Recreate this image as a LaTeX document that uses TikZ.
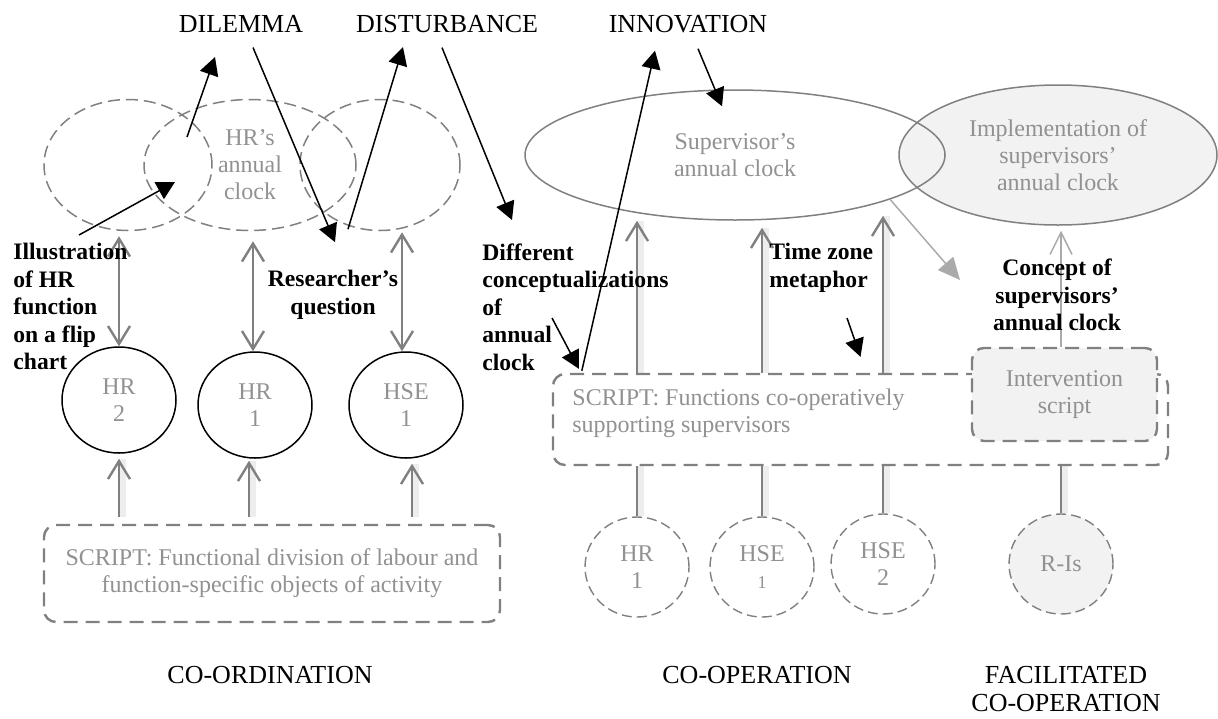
\documentclass[tikz,border=0pt]{standalone}
\usepackage{fontspec}
\setmainfont{Liberation Serif}
\usetikzlibrary{arrows.meta,shapes.geometric,calc}
\definecolor{linegrey}{RGB}{128,128,128}
\definecolor{textgrey}{RGB}{145,145,145}
\definecolor{fillgrey}{RGB}{242,242,242}
\definecolor{pale}{RGB}{170,170,170}

\begin{document}
\begin{tikzpicture}[x=0.5pt,y=-0.5pt,
  caps/.style={font=\fontsize{13}{14.25}\selectfont, inner sep=0pt, align=center},
  lbl/.style={font=\fontsize{11.8}{13.75}\selectfont\bfseries, inner sep=0pt},
  gtext/.style={text=textgrey, font=\fontsize{12}{13.5}\selectfont, align=center},
  dashell/.style={ellipse, draw=linegrey, line width=0.75pt, dash pattern=on 6pt off 3pt, inner sep=0pt},
  actor/.style={ellipse, draw=black, line width=0.75pt, minimum width=57pt, minimum height=53pt, gtext, inner sep=0pt},
  member/.style={ellipse, draw=linegrey, line width=0.7pt, dash pattern=on 5pt off 2.5pt, minimum width=52pt, minimum height=50pt, gtext, inner sep=0pt},
  scriptbox/.style={draw=linegrey, line width=1.2pt, dash pattern=on 7pt off 4pt, rounded corners=6pt},
  softshadow/.style={preaction={draw=black, draw opacity=0.07, line width=3.5pt, arrows=-, transform canvas={xshift=1.5pt}}},
  dbl/.style={draw=linegrey, line width=1.2pt, {Straight Barb[length=9pt,width=11pt]}-{Straight Barb[length=9pt,width=11pt]}},
  uparr/.style={softshadow, draw=linegrey, line width=1.2pt, -{Straight Barb[length=9pt,width=11pt]}},
  link/.style={softshadow, draw=linegrey, line width=1.2pt},
  thinarr/.style={draw=pale, line width=0.75pt, -{Straight Barb[length=11pt,width=11pt]}},
  blk/.style={draw=black, line width=0.75pt, -{Triangle[length=9pt,width=9.5pt]}},
]
\useasboundingbox (0,0) rectangle (1218,718);

% ---- headings ----
\node[caps] (dilemma) at (241,24) {DILEMMA};
\node[caps] (disturb) at (447,24) {DISTURBANCE};
\node[caps] (innov) at (688,24) {INNOVATION};
\node[caps] (coord) at (270,675) {CO-ORDINATION};
\node[caps] (coop) at (757,675) {CO-OPERATION};
\node[caps] (facil) at (1066,689) {FACILITATED\\CO-OPERATION};

% ---- co-ordination: annual clocks of the functions ----
\node[dashell, minimum width=84pt, minimum height=65.5pt] (e1) at (128,165) {};
\node[dashell, minimum width=106pt, minimum height=65.5pt, gtext] (hrclock) at (250,165) {HR’s\\annual\\clock};
\node[dashell, minimum width=80pt, minimum height=65.5pt] (e3) at (380,165) {};

\node[actor] (hr2) at (119,400) {HR\\2};
\node[actor] (hr1) at (255,405) {HR\\1};
\node[actor] (hse1) at (406,405) {HSE\\1};

\node[scriptbox, minimum width=228pt, minimum height=48.5pt, gtext] (fscript) at (272,573.5)
  {SCRIPT: Functional division of labour and\\function-specific objects of activity};

\draw[dbl, shorten <=2.5pt] (hr2.north |- e1.south) -- (hr2.north);
\draw[dbl, shorten <=5pt] ([xshift=-1pt]hr1.north |- hrclock.south) -- ([xshift=-1pt]hr1.north);
\draw[dbl, shorten <=0.5pt] ([xshift=-2pt]hse1.north |- e3.south) -- ([xshift=-2pt]hse1.north);

\draw[uparr, shorten <=3.5pt, shorten >=2.5pt] (hr2.south |- fscript.north) -- (hr2.south);
\draw[uparr, shorten <=3.5pt, shorten >=1pt] ([xshift=-3pt]hr1.south |- fscript.north) -- ([xshift=-3pt]hr1.south);
\draw[uparr, shorten <=3.5pt, shorten >=2.5pt] ([xshift=3pt]hse1.south |- fscript.north) -- ([xshift=3pt]hse1.south);

% ---- co-operation ----
\node[ellipse, draw=linegrey, fill=fillgrey, line width=0.75pt, minimum width=159pt, minimum height=70pt, gtext] (impl) at (1058,155)
  {Implementation of\\supervisors’\\annual clock};
\node[ellipse, draw=linegrey, line width=0.75pt, minimum width=210pt, minimum height=65pt, gtext] (sup) at (735,155)
  {Supervisor’s\\annual clock};

\node[scriptbox, minimum width=307.5pt, minimum height=45.5pt] (cscript) at (860.5,419.5) {};
\node[gtext, align=left, anchor=west, inner sep=0pt] (cscripttext) at (572,413)
  {SCRIPT: Functions co-operatively\\supporting supervisors};
\node[scriptbox, fill=fillgrey, minimum width=92.5pt, minimum height=46.5pt, gtext] (iscript) at (1064.5,394.5)
  {Intervention\\script};

\node[member] (m1) at (637,567) {HR\\1};
\node[member] (m2) at (762,567) {HSE\\{\fontsize{9}{10}\selectfont 1}};
\node[member] (m3) at (883,564) {HSE\\2};
\node[member, fill=fillgrey] (ri) at (1061,564) {R-Is};

\draw[uparr] (m1.north |- cscript.north) -- (m1.north |- sup.south);
\draw[uparr, shorten >=3.5pt] (m2.north |- cscript.north) -- (m2.north |- sup.south);
\draw[uparr, shorten >=-2.5pt] (m3.north |- cscript.north) -- (m3.north |- sup.south);

\draw[link] (m1.north |- cscript.south) -- (m1.north);
\draw[link] (m2.north |- cscript.south) -- (m2.north);
\draw[link] (m3.north |- cscript.south) -- (m3.north);
\draw[link, line width=0.9pt] (ri.north |- cscript.south) -- (ri.north);

\draw[thinarr, shorten >=2.5pt] (ri.north |- iscript.north) -- (ri.north |- impl.south);

\coordinate (conceptpt) at (960,280);
\draw[draw=pale, line width=0.75pt, -{Triangle[length=11pt,width=10pt]}, pale] (sup.-16) -- (conceptpt);

% ---- bold annotations ----
\node[lbl, align=left, anchor=north west] (illus) at (13,243) {Illustration\\of HR\\function\\on a flip\\chart};
\node[lbl, align=center] (resq) at (333,295) {Researcher’s\\question};
\node[lbl, align=left, anchor=north west] (diff) at (482,243) {Different\\conceptualizations\\of\\annual\\clock};
\node[lbl, align=left, anchor=north west] (tz) at (769,243) {Time zone\\metaphor};
\node[lbl, align=center] (concept) at (1057,295) {Concept of\\supervisors’\\annual clock};

% ---- black arrows ----
\coordinate (clockpt) at (187,137);
\coordinate (flippt) at (175,182);
\draw[blk] (clockpt) -- ($(dilemma.south)+(-26,24)$);
\draw[blk] ($(dilemma.south)+(12,14.5)$) -- ($(resq.north)+(2,-28)$);
\draw[blk] ($(resq.north)+(15,-41)$) -- ($(disturb.south)+(-44,14)$);
\draw[blk] ($(illus.north west)+(66,-8)$) -- (flippt);
\draw[blk] ($(disturb.south)+(-5,14.5)$) -- ($(diff.north west)+(30,-23)$);
\draw[blk] ($(diff.north west)+(70,75)$) -- ($(cscript.north west)+(27,-4)$);
\draw[blk] ($(cscript.north west)+(30,-2)$) -- ($(innov.south)+(-33,17.5)$);
\draw[blk] ($(innov.south)+(10,15.5)$) -- ($(sup.north)+(-13,17)$);
\draw[blk] ($(tz.north west)+(78,75)$) -- ($(cscript.north)+(0,-16)$);
\end{tikzpicture}
\end{document}
